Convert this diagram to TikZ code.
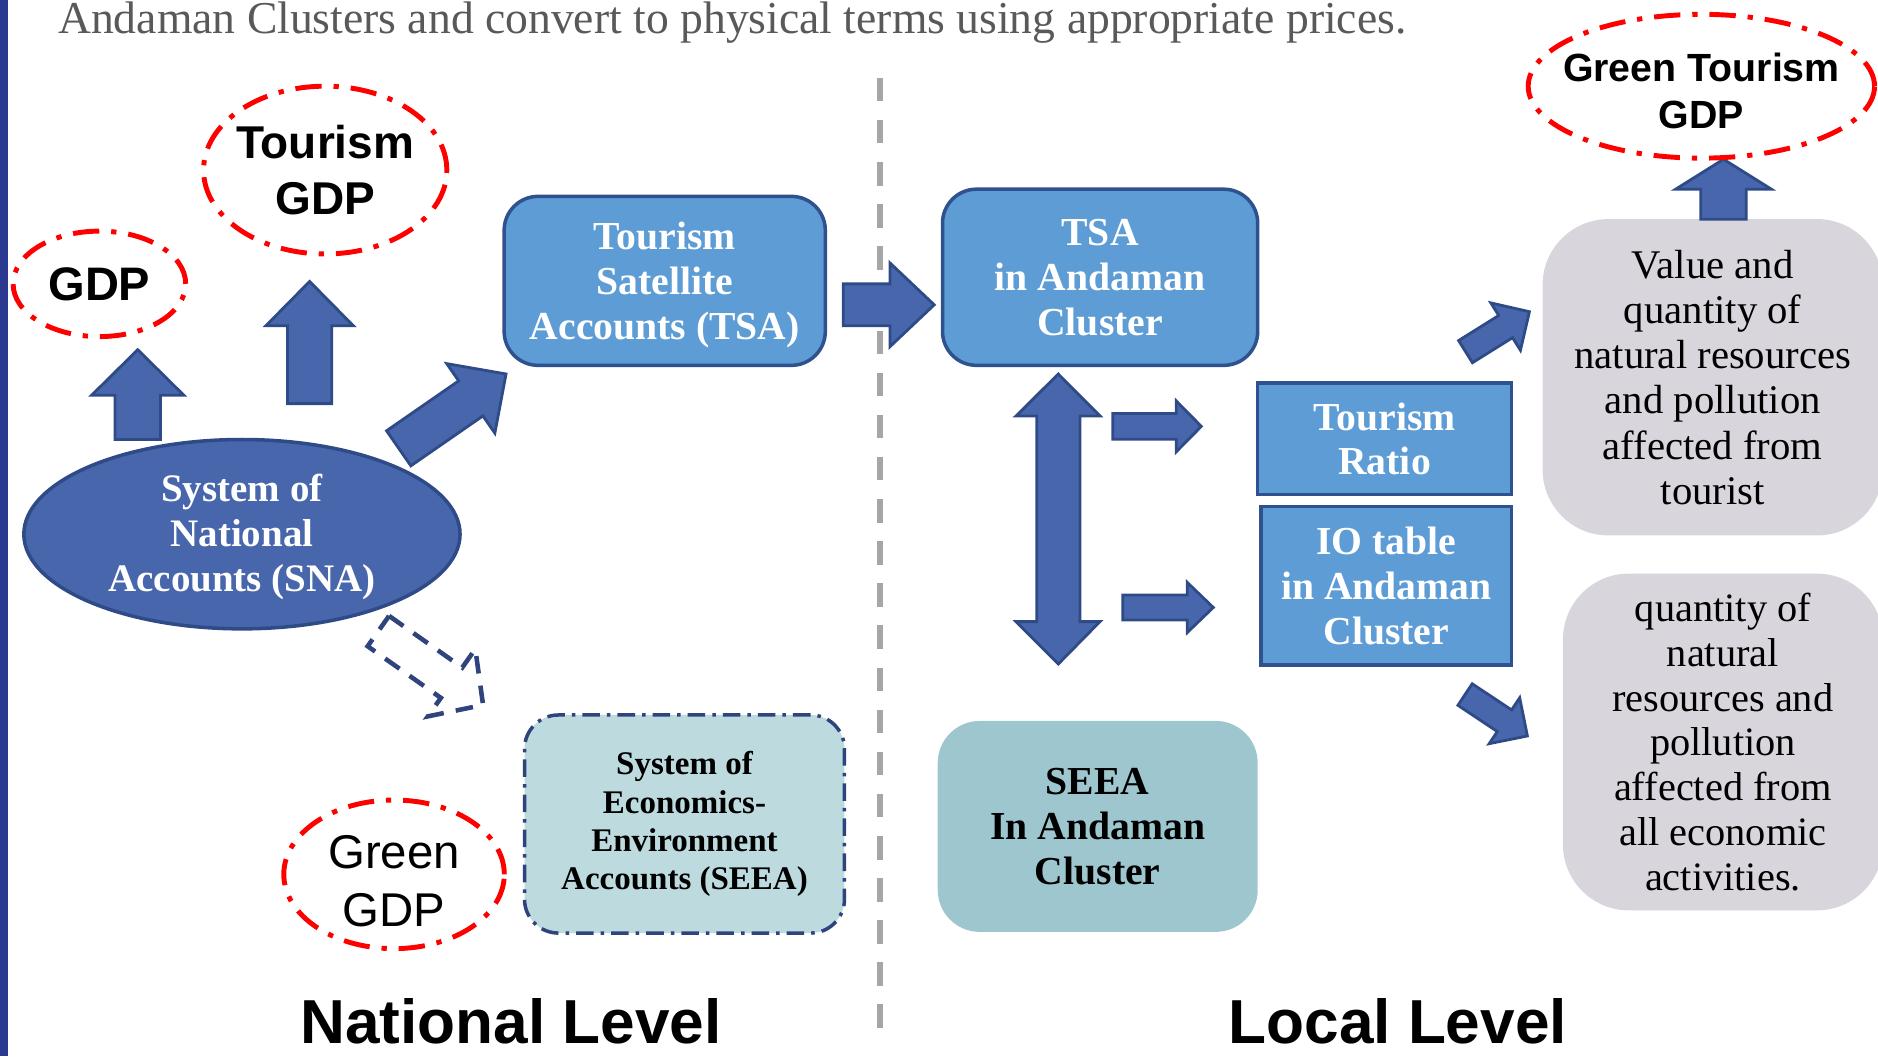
\documentclass[tikz,border=0pt]{standalone}
\usepackage{fontspec}
\setmainfont{Liberation Serif}
\setsansfont{Liberation Sans}
\usetikzlibrary{positioning}

\definecolor{barblue}{RGB}{43,57,144}
\definecolor{arrowblue}{RGB}{72,102,172}
\definecolor{arrowedge}{RGB}{47,75,135}
\definecolor{boxblue}{RGB}{93,156,212}
\definecolor{boxedge}{RGB}{47,82,143}
\definecolor{seeapale}{RGB}{189,219,223}
\definecolor{seeateal}{RGB}{158,198,206}
\definecolor{greybox}{RGB}{217,213,220}
\definecolor{titlegrey}{RGB}{89,89,89}
\definecolor{sepgrey}{RGB}{166,166,166}
\definecolor{dashnavy}{RGB}{47,67,125}

% block arrow: [style]{tail}{angle}{length}{shaft half}{head half}{head length}
\newcommand{\blkarrow}[7][blk]{%
  \path[#1,shift={#2},rotate=#3] (0,-#5) -- ({#4-#7},-#5) -- ({#4-#7},-#6)
    -- (#4,0) -- ({#4-#7},#6) -- ({#4-#7},#5) -- (0,#5) -- cycle;}

\begin{document}
\begin{tikzpicture}[x=0.012cm,y=-0.012cm,
  blk/.style={fill=arrowblue,draw=arrowedge,line width=0.8pt,line join=miter},
  dashblk/.style={draw=dashnavy,line width=1.3pt,dash pattern=on 5pt off 3.5pt},
  redring/.style={draw=red,line width=1.4pt,dash pattern=on 7.5pt off 3.4pt on 1.5pt off 3.4pt},
  ringtext/.style={font=\sffamily\bfseries,align=center,inner sep=0pt},
  whitetext/.style={text=white,font=\bfseries\fontsize{11.3}{12.8}\selectfont,align=center,inner sep=0pt},
  tsabox/.style={rectangle,rounded corners=0.34cm,fill=boxblue,draw=boxedge,line width=1pt,
    whitetext},
  ratiobox/.style={rectangle,fill=boxblue,draw=boxedge,line width=1pt,whitetext},
  greytext/.style={rectangle,rounded corners=0.66cm,fill=greybox,align=center,inner sep=0pt},
  levelname/.style={font=\sffamily\bfseries\fontsize{17.7}{20}\selectfont,anchor=base,inner sep=0pt}]
\useasboundingbox (0,0) rectangle (1568,882);

%%% side bar and heading
\fill[barblue] (0,0) rectangle (7,882);
\node[anchor=base west,text=titlegrey,inner sep=0pt,font=\fontsize{13}{15}\selectfont] (title)
  at (48,28) {Andaman Clusters and convert to physical terms using appropriate prices.};

%%% national / local separator
\draw[sepgrey,line width=1.8pt,dash pattern=on 6.7pt off 5.3pt] (735,65) -- (735,865);

%%% national level
\draw[redring] (83,237) ellipse (0.864cm and 0.528cm) node (gdp)
  [ringtext,font=\sffamily\bfseries\fontsize{13.4}{16}\selectfont] {GDP};
\draw[redring] (271.5,142) ellipse (1.218cm and 0.84cm) node (tgdp)
  [ringtext,font=\sffamily\bfseries\fontsize{13.1}{16}\selectfont] {Tourism\\GDP};
\draw[redring] (329,730) ellipse (1.104cm and 0.744cm) node (ggdp)
  [ringtext,yshift=-0.07cm,font=\sffamily\fontsize{13.5}{16.4}\selectfont] {Green\\GDP};

\blkarrow{(115,367)}{90}{75}{19}{38.5}{38}
\blkarrow{(258.5,337)}{90}{102}{18.5}{36.5}{37}
\blkarrow{(332.9,374.3)}{34.7}{109}{17.8}{35.3}{35.8}
\blkarrow[dashblk]{(315.9,526.9)}{-35.2}{107}{15.5}{34.4}{32.2}

\draw[fill=arrowblue,draw=arrowedge,line width=1pt] (202,446) ellipse (2.184cm and 0.948cm)
  node (sna) [whitetext,yshift=-0.03cm,font=\bfseries\fontsize{11.1}{12.8}\selectfont] {System of\\National\\Accounts (SNA)};

\node[tsabox,minimum width=3.216cm,minimum height=1.692cm,text depth=-0.1cm] (tsa) at (555,234.5)
  {Tourism\\Satellite\\Accounts (TSA)};
\node[rectangle,rounded corners=0.34cm,fill=seeapale,draw=dashnavy,line width=1pt,
  dash pattern=on 5pt off 2pt on 1pt off 2pt,align=center,inner sep=0pt,
  minimum width=3.204cm,minimum height=2.184cm,font=\bfseries\fontsize{9.4}{10.9}\selectfont]
  (seea) at (571.5,688) {System of\\Economics-\\Environment\\Accounts (SEEA)};

\blkarrow{(704,254.5)}{0}{76}{17.5}{35}{37}

%%% local level
\node[tsabox,minimum width=3.156cm,minimum height=1.764cm] (tsaand) at (918.5,231.5)
  {TSA\\in Andaman\\Cluster};
\path[blk] (883.6,312.3) -- (918.4,347.3) -- (901.7,347.3) -- (901.7,519) -- (918.4,519)
  -- (883.6,554.4) -- (848.3,519) -- (865.6,519) -- (865.6,347.3) -- (848.3,347.3) -- cycle;
\blkarrow{(929,356)}{0}{74}{10.8}{21.3}{21}
\blkarrow{(937.4,507.2)}{0}{75.6}{10.4}{20.9}{21.7}

\node[ratiobox,minimum width=2.544cm,minimum height=1.116cm] (ratio) at (1156,366.5)
  {Tourism\\Ratio};
\node[ratiobox,minimum width=2.508cm,minimum height=1.584cm] (io) at (1157.5,489)
  {IO table\\in Andaman\\Cluster};
\node[rectangle,rounded corners=0.42cm,fill=seeateal,align=center,inner sep=0pt,
  minimum width=3.204cm,minimum height=2.112cm,font=\bfseries\fontsize{11.3}{12.8}\selectfont]
  (seeaand) at (916.5,690) {SEEA\\In Andaman\\Cluster};

\blkarrow{(1223.6,293.6)}{32}{62.9}{10.9}{23.3}{23.4}
\blkarrow{(1223.2,579.9)}{-33.6}{62.5}{10.8}{23}{23}

\node[greytext,minimum width=3.408cm,minimum height=3.168cm,font=\fontsize{11.6}{12.9}\selectfont]
  (value) at (1430,315) {Value and\\quantity of\\natural resources\\and pollution\\affected from\\tourist};
\node[greytext,minimum width=3.204cm,minimum height=3.372cm,font=\fontsize{11.5}{12.75}\selectfont]
  (qty) at (1438.5,619.5) {quantity of\\natural\\resources and\\pollution\\affected from\\all economic\\activities.};

\blkarrow{(1439,183)}{90}{50}{19}{40}{25}
\draw[redring] (1420.5,72) ellipse (1.734cm and 0.72cm) node (gtgdp)
  [ringtext,yshift=-0.05cm,font=\sffamily\bfseries\fontsize{11.2}{13.3}\selectfont] {Green Tourism\\GDP};

%%% level names
\node[levelname] (natl) at (426.5,871) {National Level};
\node[levelname] (locl) at (1167,871) {Local Level};
\end{tikzpicture}
\end{document}
